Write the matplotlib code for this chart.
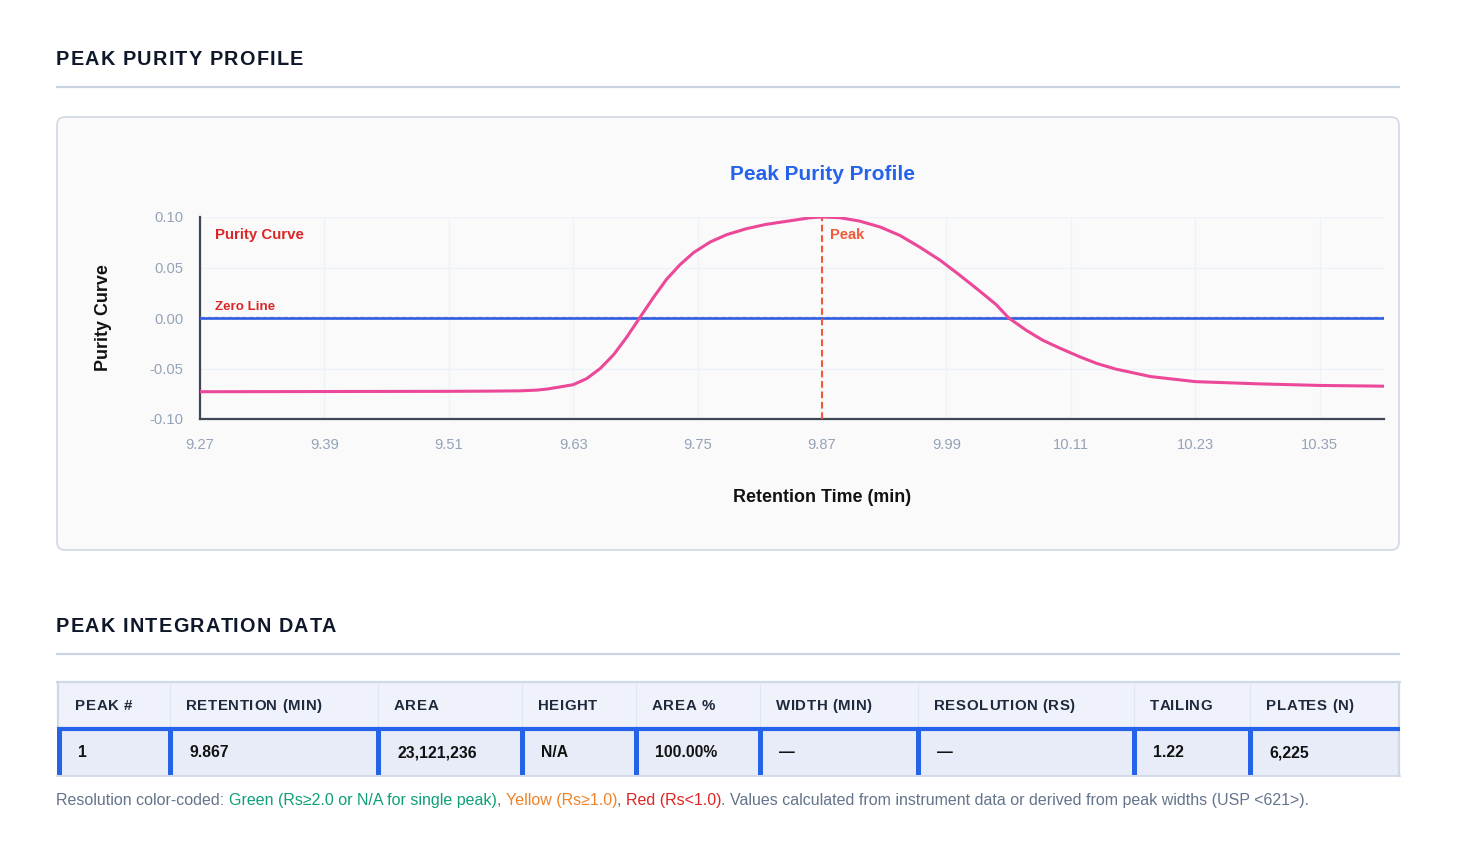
import matplotlib
matplotlib.use("Agg")
import matplotlib.pyplot as plt
from matplotlib.patches import FancyBboxPatch, Rectangle
from matplotlib.transforms import offset_copy

# ---------------- data ----------------
retention_time = [9.270, 9.330, 9.390, 9.450, 9.510, 9.550, 9.579, 9.595, 9.605, 9.617,
                  9.630, 9.643, 9.656, 9.669, 9.681, 9.694, 9.707, 9.720, 9.733, 9.746,
                  9.762, 9.778, 9.797, 9.816, 9.842, 9.858, 9.870, 9.887, 9.906, 9.926,
                  9.945, 9.964, 9.984, 10.003, 10.022, 10.038, 10.050, 10.067, 10.083, 10.099,
                  10.119, 10.135, 10.153, 10.187, 10.230, 10.291, 10.351, 10.412]
purity = [-0.0730, -0.0729, -0.0728, -0.0727, -0.0726, -0.0724, -0.0721, -0.0714, -0.0703, -0.0683,
          -0.0660, -0.0600, -0.0500, -0.0363, -0.0198, 0.0000, 0.0198, 0.0383, 0.0528, 0.0647,
          0.0752, 0.0825, 0.0884, 0.0927, 0.0967, 0.0992, 0.1000, 0.0993, 0.0960, 0.0901,
          0.0818, 0.0703, 0.0571, 0.0422, 0.0267, 0.0132, 0.0000, -0.0122, -0.0221, -0.0297,
          -0.0386, -0.0450, -0.0505, -0.0580, -0.0630, -0.0652, -0.0668, -0.0675]
x_ticks = [9.27, 9.39, 9.51, 9.63, 9.75, 9.87, 9.99, 10.11, 10.23, 10.35]
x_tick_labels = ["9.27", "9.39", "9.51", "9.63", "9.75", "9.87", "9.99", "10.11", "10.23", "10.35"]
y_ticks = [-0.10, -0.05, 0.00, 0.05, 0.10]
y_tick_labels = ["-0.10", "-0.05", "0.00", "0.05", "0.10"]
x_range = [9.27, 10.412]
y_range = [-0.10, 0.10]
peak_rt = 9.87
zero_level = 0.0

table_headers = ["PEAK #", "RETENTION (MIN)", "AREA", "HEIGHT", "AREA %",
                 "WIDTH (MIN)", "RESOLUTION (RS)", "TAILING", "PLATES (N)"]
table_row = ["1", "9.867", "23,121,236", "N/A", "100.00%", "\u2014", "\u2014", "1.22", "6,225"]
col_edges = [57, 168, 376, 520, 634, 758, 916, 1132, 1248, 1400]

note_segments = [
    ("Resolution color-coded: ", "#64748b"),
    ("Green (Rs\u22652.0 or N/A for single peak)", "#0f9f78"),
    (", ", "#64748b"),
    ("Yellow (Rs\u22651.0)", "#ee8429"),
    (", ", "#64748b"),
    ("Red (Rs<1.0)", "#e02424"),
    (". Values calculated from instrument data or derived from peak widths (USP <621>).", "#64748b"),
]

# ---------------- figure ----------------
W, H = 1459, 859
plt.rcParams["font.family"] = ["Liberation Sans", "DejaVu Sans"]
fig = plt.figure(figsize=(W / 100, H / 100), dpi=100)
fig.patch.set_facecolor("white")
bg = fig.add_axes([0, 0, 1, 1], zorder=0)
bg.set_xlim(0, W)
bg.set_ylim(H, 0)
bg.axis("off")
renderer = fig.canvas.get_renderer()


def text_width(s, **kw):
    t1 = bg.text(0, 0, s + "|", **kw)
    t2 = bg.text(0, 0, "|", **kw)
    w = t1.get_window_extent(renderer).width - t2.get_window_extent(renderer).width
    t1.remove()
    t2.remove()
    return w


def spaced_text(x, y, s, spacing, **kw):
    for i, ch in enumerate(s):
        off = text_width(s[:i], **kw) if i > 0 else 0
        bg.text(x + off + i * spacing, y, ch, va="baseline", ha="left", **kw)


# section headings
heading_kw = dict(fontsize=14.3, fontweight="bold", color="#0f172a")
spaced_text(56, 65, "PEAK PURITY PROFILE", 1.2, **heading_kw)
spaced_text(56, 632, "PEAK INTEGRATION DATA", 1.2, **heading_kw)
bg.plot([56, 1400], [87, 87], color="#cbd5e1", lw=1.6, solid_capstyle="butt")
bg.plot([56, 1400], [654, 654], color="#cbd5e1", lw=1.6, solid_capstyle="butt")

# chart panel
panel = FancyBboxPatch((57, 117), 1342, 433, boxstyle="round,pad=0,rounding_size=8",
                       fc="#fafafa", ec="#cfd8e3", lw=1.2)
bg.add_patch(panel)

bg.text(822, 180, "Peak Purity Profile", ha="center", va="baseline",
        fontsize=15, fontweight="bold", color="#2563eb")
bg.text(822, 502, "Retention Time (min)", ha="center", va="baseline",
        fontsize=12.9, fontweight="bold", color="#111111")
bg.text(104, 318, "Purity Curve", ha="center", va="center", rotation=90,
        fontsize=12.9, fontweight="bold", color="#111111")

# ---------------- plot ----------------
ax = fig.add_axes([200 / W, 1 - 419 / H, 1184 / W, 202 / H], zorder=2)
ax.set_facecolor("none")
ax.set_xlim(*x_range)
ax.set_ylim(*y_range)
ax.set_xticks(x_ticks)
ax.set_xticklabels(x_tick_labels)
ax.set_yticks(y_ticks)
ax.set_yticklabels(y_tick_labels)
ax.tick_params(axis="both", length=0, labelsize=10.6, labelcolor="#94a3b8")
ax.tick_params(axis="x", pad=14)
ax.tick_params(axis="y", pad=12)
for s in ["top", "right"]:
    ax.spines[s].set_visible(False)
for s in ["left", "bottom"]:
    ax.spines[s].set_color("#3f4654")
    ax.spines[s].set_linewidth(1.6)
ax.grid(True, color="#eef2f9", lw=1)
ax.set_axisbelow(True)

# zero line (dashed trace under solid blue)
ax.plot(x_range, [zero_level, zero_level], color="#c7a0e0", lw=1.0, ls=(0, (3, 2)),
        transform=offset_copy(ax.transData, fig=fig, y=1.5, units="dots"), zorder=3)
ax.plot(x_range, [zero_level, zero_level], color="#2f5fe0", lw=1.9, zorder=4)
# peak marker
ax.plot([peak_rt, peak_rt], y_range, color="#ef5a3c", lw=1.5, ls=(0, (3.2, 1.8)), zorder=5)
# purity curve
ax.plot(retention_time, purity, color="#ec4899", lw=2.2, zorder=6,
        solid_capstyle="round", solid_joinstyle="round")

# annotations
bg.text(215, 239, "Purity Curve", ha="left", va="baseline", fontsize=10.8,
        fontweight="bold", color="#dc2626", zorder=5)
bg.text(215, 310, "Zero Line", ha="left", va="baseline", fontsize=9.6,
        fontweight="bold", color="#dc2626", zorder=5)
bg.text(830, 239, "Peak", ha="left", va="baseline", fontsize=10.5,
        fontweight="bold", color="#f05a3a", zorder=5)

# ---------------- table ----------------
hdr_top, hdr_bot, row_bot = 682, 727, 776
bg.add_patch(Rectangle((col_edges[0], hdr_top), col_edges[-1] - col_edges[0], hdr_bot - hdr_top,
                       fc="#eff2fa", ec="none"))
bg.add_patch(Rectangle((col_edges[0], hdr_bot), col_edges[-1] - col_edges[0], row_bot - hdr_bot,
                       fc="#e7ecf8", ec="none"))
bg.plot([col_edges[0], col_edges[-1]], [hdr_top, hdr_top], color="#cfd8e5", lw=1.6)
bg.plot([col_edges[0], col_edges[-1]], [row_bot, row_bot], color="#cfd8e5", lw=1.2)
bg.plot([col_edges[0] + 1, col_edges[0] + 1], [hdr_top, hdr_bot], color="#cfd8e5", lw=1.6)
bg.plot([col_edges[-1] - 1, col_edges[-1] - 1], [hdr_top, row_bot], color="#cfd8e5", lw=1.6)
for xe in col_edges[1:-1]:
    bg.plot([xe + 2, xe + 2], [hdr_top, hdr_bot], color="#e0e6f1", lw=0.8)
bg.plot([col_edges[0], col_edges[-1]], [729, 729], color="#2563eb", lw=3.0, solid_capstyle="butt")
for xe in col_edges[:-1]:
    bg.add_patch(Rectangle((xe, 729), 5, row_bot - 729 - 1, fc="#2563eb", ec="none"))

header_kw = dict(fontsize=10.8, fontweight="bold", color="#1e293b")
for i, (h, v) in enumerate(zip(table_headers, table_row)):
    xl = col_edges[i]
    spaced_text(xl + 18, 710, h, 0.6, **header_kw)
    bg.text(xl + 21, 757, v, ha="left", va="baseline", fontsize=11.3,
            fontweight="bold", color="#111111")

# ---------------- note ----------------
xn = 56
note_kw = dict(fontsize=11.5)
for seg, col in note_segments:
    bg.text(xn, 805, seg, ha="left", va="baseline", color=col, **note_kw)
    xn += text_width(seg, **note_kw)

fig.savefig("out.png", dpi=100, facecolor="white")
